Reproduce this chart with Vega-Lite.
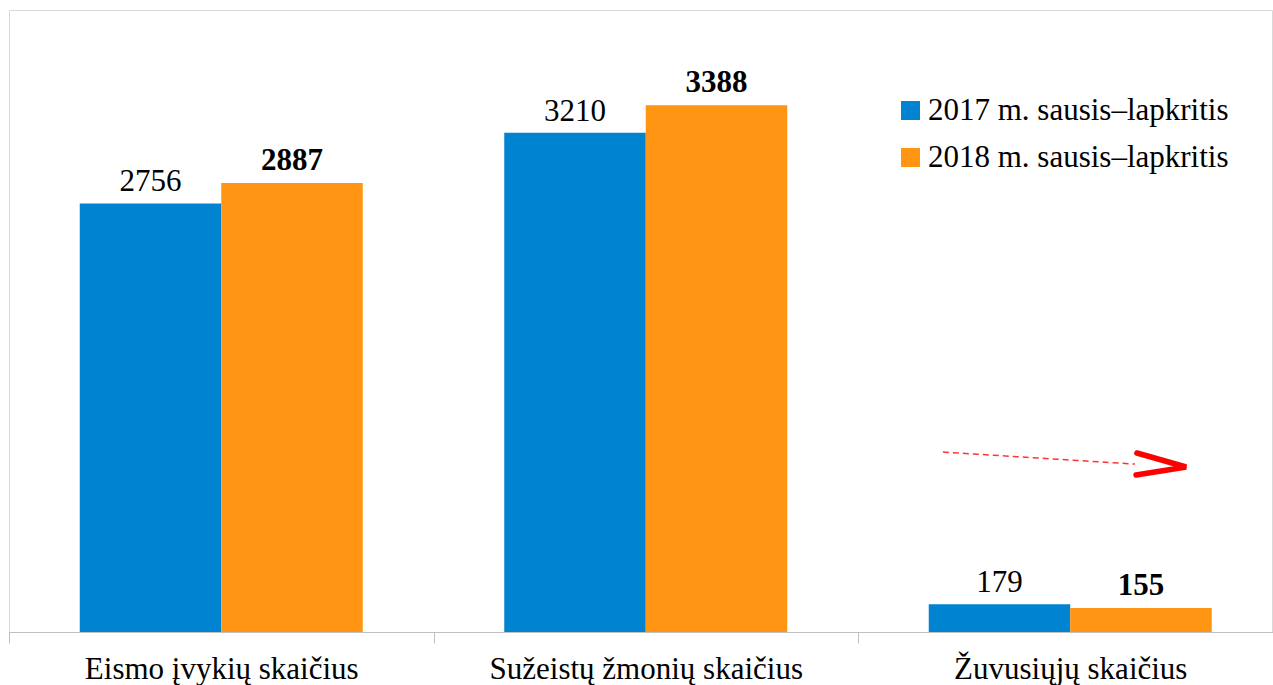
{
  "$schema": "https://vega.github.io/schema/vega-lite/v6.json",
  "width": 1263,
  "height": 622,
  "autosize": {"type": "none"},
  "padding": {"left": 9, "top": 10, "right": 1, "bottom": 53},
  "background": "white",
  "config": {
    "view": {"stroke": "#D9D9D9", "strokeWidth": 1},
    "font": "Liberation Serif"
  },
  "datasets": {
    "bars": [
      {"kategorija": "Eismo įvykių skaičius", "metai": "2017 m. sausis–lapkritis", "reiksme": 2756},
      {"kategorija": "Eismo įvykių skaičius", "metai": "2018 m. sausis–lapkritis", "reiksme": 2887},
      {"kategorija": "Sužeistų žmonių skaičius", "metai": "2017 m. sausis–lapkritis", "reiksme": 3210},
      {"kategorija": "Sužeistų žmonių skaičius", "metai": "2018 m. sausis–lapkritis", "reiksme": 3388},
      {"kategorija": "Žuvusiųjų skaičius", "metai": "2017 m. sausis–lapkritis", "reiksme": 179},
      {"kategorija": "Žuvusiųjų skaičius", "metai": "2018 m. sausis–lapkritis", "reiksme": 155}
    ],
    "arrow": [
      {"dalis": "shaft", "eile": 1, "ax": 2.2, "ay": 1157},
      {"dalis": "shaft", "eile": 2, "ax": 2.6525, "ay": 1080}
    ],
    "head": [
      {"dalis": "head", "eile": 1, "ax": 2.657, "ay": 1151},
      {"dalis": "head", "eile": 2, "ax": 2.773, "ay": 1061},
      {"dalis": "head", "eile": 3, "ax": 2.655, "ay": 1010}
    ]
  },
  "layer": [
    {
      "data": {"name": "bars"},
      "encoding": {
        "x": {
          "field": "kategorija", "type": "nominal", "sort": null,
          "scale": {"range": [0, 1273.5], "paddingInner": 0, "paddingOuter": 0},
          "axis": {
            "title": null, "labelAngle": 0, "labelFontSize": 31, "labelColor": "#000000",
            "labelFont": "Liberation Serif", "domainColor": "#BFBFBF", "tickColor": "#BFBFBF",
            "tickSize": 11, "tickBand": "extent", "labelPadding": 11, "labelLimit": 0
          }
        },
        "xOffset": {
          "field": "metai", "type": "nominal",
          "scale": {"paddingInner": 0, "paddingOuter": 0.5}
        },
        "y": {
          "field": "reiksme", "type": "quantitative",
          "scale": {"domain": [0, 4000], "nice": false, "zero": true},
          "axis": null
        }
      },
      "layer": [
        {
          "mark": {"type": "bar"},
          "encoding": {
            "color": {
              "field": "metai", "type": "nominal",
              "scale": {"range": ["#0083D0", "#FF9513"]},
              "legend": {
                "title": null, "orient": "none", "legendX": 886, "legendY": 85,
                "symbolType": "square", "symbolSize": 361, "symbolStrokeWidth": 0,
                "labelFontSize": 31, "labelFont": "Liberation Serif", "labelColor": "#000000",
                "labelOffset": 2, "rowPadding": 15, "padding": 0, "labelLimit": 0
              }
            }
          }
        },
        {
          "transform": [{"filter": "datum.metai === '2017 m. sausis–lapkritis'"}],
          "mark": {"type": "text", "fontSize": 31, "font": "Liberation Serif", "baseline": "alphabetic", "dy": -12, "color": "#000000"},
          "encoding": {
            "text": {"field": "reiksme", "type": "quantitative"}
          }
        },
        {
          "transform": [{"filter": "datum.metai === '2018 m. sausis–lapkritis'"}],
          "mark": {"type": "text", "fontSize": 31, "font": "Liberation Serif", "fontWeight": "bold", "baseline": "alphabetic", "dy": -13, "color": "#000000"},
          "encoding": {
            "text": {"field": "reiksme", "type": "quantitative"}
          }
        }
      ]
    },
    {
      "layer": [
        {
          "data": {"name": "arrow"},
          "mark": {"type": "line", "color": "#FF0000", "strokeWidth": 1.5, "strokeDash": [6, 4], "opacity": 0.8},
          "encoding": {
            "x": {"field": "ax", "type": "quantitative", "scale": {"domain": [0, 3], "range": [0, 1273.5], "nice": false, "zero": false}, "axis": null},
            "y": {"field": "ay", "type": "quantitative"},
            "order": {"field": "eile"}
          }
        },
        {
          "data": {"name": "head"},
          "mark": {"type": "line", "color": "#FF0000", "strokeWidth": 5.5, "strokeCap": "round", "strokeJoin": "miter"},
          "encoding": {
            "x": {"field": "ax", "type": "quantitative", "scale": {"domain": [0, 3], "range": [0, 1273.5], "nice": false, "zero": false}, "axis": null},
            "y": {"field": "ay", "type": "quantitative"},
            "order": {"field": "eile"}
          }
        }
      ]
    }
  ],
  "resolve": {"scale": {"x": "independent"}}
}
